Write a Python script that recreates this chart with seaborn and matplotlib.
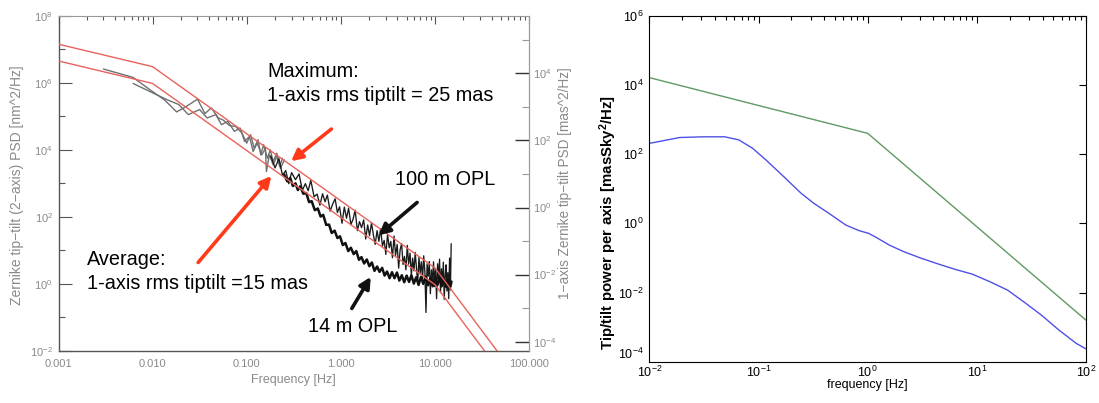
import numpy as np
import matplotlib
matplotlib.use("Agg")
import matplotlib.pyplot as plt
import seaborn as sns
from matplotlib.ticker import (FixedLocator, FixedFormatter, LogLocator,
                               NullFormatter, NullLocator, FuncFormatter)

# ------------------------------------------------------------------
# DATA (values of the PSD curves stored as log10 exponents)
# ------------------------------------------------------------------
# Left panel: red model envelopes
red_f = [0.001, 0.01, 10.0, 100.0]
red_upper_exp = [7.15, 6.48, 0.48, -3.27]
red_lower_exp = [6.65, 5.98, -0.02, -3.77]

# Left panel: low-frequency grey measurements
gray1_f = [0.0030, 0.0062, 0.0095, 0.0135, 0.018, 0.0224, 0.030, 0.036, 0.042, 0.050,
           0.056, 0.066, 0.076, 0.089, 0.100, 0.110, 0.120, 0.132, 0.141, 0.151,
           0.166, 0.178, 0.191, 0.209, 0.224, 0.240]
gray1_exp = [6.41, 6.16, 5.78, 5.48, 5.13, 5.28, 5.51, 5.08, 5.25, 4.95,
             4.89, 4.72, 4.70, 4.50, 4.20, 4.45, 4.05, 4.30, 3.85, 4.15,
             3.75, 4.00, 3.65, 3.90, 3.50, 3.75]

gray2_f = [0.0062, 0.0095, 0.0141, 0.019, 0.024, 0.0316, 0.038, 0.047, 0.054, 0.063,
           0.074, 0.085, 0.095, 0.107, 0.117, 0.129, 0.145, 0.158, 0.162, 0.174,
           0.191, 0.209, 0.229, 0.251]
gray2_exp = [5.98, 5.73, 5.50, 5.35, 5.05, 5.20, 4.95, 5.05, 4.75, 4.85,
             4.55, 4.65, 4.25, 4.40, 3.95, 4.20, 3.85, 4.05, 3.35, 3.85,
             3.55, 3.80, 3.45, 3.70]

# Left panel: 100 m OPL (noisy) measurement
opl100_f = [0.18, 0.20, 0.22, 0.24, 0.26, 0.28, 0.30, 0.33, 0.36, 0.39,
            0.42, 0.45, 0.48, 0.52, 0.56, 0.60, 0.64, 0.68, 0.72, 0.77,
            0.82, 0.87, 0.92, 0.97, 1.03, 1.09, 1.15, 1.21, 1.28, 1.35,
            1.42, 1.50, 1.58, 1.66, 1.75, 1.84, 1.93, 2.02, 2.12, 2.22,
            2.32, 2.43, 2.54, 2.65, 2.77, 2.89, 3.01, 3.14, 3.27, 3.40,
            3.54, 3.68, 3.82, 3.97, 4.12, 4.27, 4.43, 4.59, 4.75, 4.92,
            5.09, 5.26, 5.44, 5.62, 5.80, 5.99, 6.18, 6.37, 6.57, 6.77,
            6.97, 7.18, 7.39, 7.60, 7.82, 8.04, 8.26, 8.49, 8.72, 8.95,
            9.19, 9.43, 9.67, 9.92, 10.17, 10.42, 10.68, 10.94, 11.20, 11.47,
            11.74, 12.01, 12.29, 12.57, 12.85, 13.14, 13.43, 13.72, 14.02, 14.32,
            14.62, 14.90]
opl100_exp = [3.82, 3.46, 3.74, 3.24, 3.38, 2.99, 3.32, 3.11, 3.28, 2.79,
              2.99, 2.78, 3.09, 2.60, 2.68, 2.35, 2.69, 2.45, 2.65, 2.17,
              2.38, 2.54, 2.13, 2.30, 1.81, 2.29, 1.96, 2.26, 1.77, 1.93,
              2.20, 1.59, 1.86, 1.68, 1.91, 1.34, 1.76, 1.44, 1.82, 1.46,
              1.18, 1.59, 1.27, 1.65, 1.13, 1.30, 0.88, 1.48, 1.08, 1.27,
              0.78, 1.43, 0.85, 1.18, 0.47, 1.02, 1.20, 0.58, 0.82, 0.42,
              1.15, 0.59, 0.92, 0.26, 0.77, 0.39, 0.94, 0.47, 0.04, 0.79,
              0.32, 0.66, 0.14, 0.84, 0.37, -0.85, 0.60, 0.23, 0.67, -0.29,
              0.42, 0.05, 0.66, -0.08, 0.45, -0.44, 0.60, 0.15, 0.74, -0.26,
              0.45, -0.06, 0.65, -0.46, 0.25, 0.57, -0.21, 0.34, -0.44, 0.77,
              -0.18, 1.20]

# Left panel: 14 m OPL measurement
opl14_f = [0.25, 0.27, 0.29, 0.31, 0.33, 0.35, 0.37, 0.40, 0.43, 0.46,
           0.49, 0.53, 0.57, 0.61, 0.65, 0.70, 0.75, 0.80, 0.86, 0.92,
           0.98, 1.05, 1.12, 1.20, 1.28, 1.37, 1.46, 1.56, 1.66, 1.77,
           1.89, 2.01, 2.14, 2.28, 2.43, 2.58, 2.75, 2.92, 3.10, 3.30,
           3.50, 3.72, 3.95, 4.19, 4.45, 4.72, 5.01, 5.31, 5.63, 5.97,
           6.33, 6.71, 7.11, 7.53, 7.98, 8.45, 8.95, 9.48, 10.0, 10.6,
           11.2, 11.8, 12.5, 13.2, 13.9, 14.6, 15.0]
opl14_exp = [3.26, 3.06, 3.16, 2.92, 3.00, 2.80, 2.91, 2.69, 2.71, 2.44,
             2.47, 2.20, 2.25, 2.01, 2.06, 1.76, 1.77, 1.52, 1.59, 1.37,
             1.42, 1.16, 1.22, 0.98, 1.08, 0.89, 0.98, 0.72, 0.80, 0.61,
             0.73, 0.53, 0.64, 0.39, 0.52, 0.36, 0.48, 0.25, 0.37, 0.17,
             0.35, 0.17, 0.34, 0.10, 0.26, 0.05, 0.25, 0.06, 0.26, 0.01,
             0.20, -0.03, 0.21, 0.00, 0.22, -0.04, 0.17, -0.07, 0.18, -0.04,
             0.18, -0.07, 0.15, -0.09, 0.13, -0.08, 0.07]

left_xtick_vals = [0.001, 0.01, 0.1, 1.0, 10.0, 100.0]
left_xtick_labels = ["0.001", "0.010", "0.100", "1.000", "10.000", "100.000"]
nm_to_mas_factor = 190.0

# Right panel
green_f = [0.01, 1.0, 100.0]
green_exp = [4.21, 2.60, -2.80]
blue_f = [0.01, 0.019, 0.0316, 0.049, 0.066, 0.088, 0.117, 0.17, 0.245, 0.32,
          0.44, 0.63, 0.83, 1.02, 1.2, 1.58, 2.14, 3.09, 4.47, 6.3,
          9.1, 13.2, 19.1, 26.9, 38.9, 56.2, 81.3, 100.0]
blue_exp = [2.31, 2.48, 2.50, 2.50, 2.41, 2.17, 1.83, 1.35, 0.87, 0.58,
            0.29, -0.05, -0.21, -0.29, -0.41, -0.63, -0.82, -1.01, -1.18, -1.33,
            -1.47, -1.69, -1.93, -2.27, -2.65, -3.08, -3.47, -3.63]

# ------------------------------------------------------------------
sns.set_theme(style="white")
plt.rcParams['font.family'] = ['Liberation Sans', 'DejaVu Sans']
plt.rcParams['mathtext.fontset'] = 'custom'
plt.rcParams['mathtext.rm'] = 'Liberation Sans'
plt.rcParams['mathtext.it'] = 'Liberation Sans:italic'
plt.rcParams['mathtext.bf'] = 'Liberation Sans:bold'

W, H = 1099, 403
fig = plt.figure(figsize=(W / 100, H / 100), dpi=100)
fig.patch.set_facecolor('white')


def box(x0, y0, x1, y1):
    return [x0 / W, 1 - y1 / H, (x1 - x0) / W, (y1 - y0) / H]


ax1 = fig.add_axes(box(58.5, 15.7, 529, 351))
ax2 = fig.add_axes(box(649.4, 15.7, 1086, 361.7))


def lp(ax, f, e, **kw):
    sns.lineplot(x=np.asarray(f, float), y=10.0 ** np.asarray(e, float), ax=ax,
                 estimator=None, sort=False, legend=False, **kw)


# ---------------- left panel ----------------
lp(ax1, gray1_f, gray1_exp, color='#707070', linewidth=1.0, zorder=2)
lp(ax1, gray2_f, gray2_exp, color='#707070', linewidth=1.0, zorder=2)
lp(ax1, opl100_f, opl100_exp, color='#1a1a1a', linewidth=0.95, zorder=3)
lp(ax1, opl14_f, opl14_exp, color='#111111', linewidth=1.8, zorder=3)
lp(ax1, red_f, red_upper_exp, color='#e8625c', linewidth=1.0, zorder=4)
lp(ax1, red_f, red_lower_exp, color='#e8625c', linewidth=1.0, zorder=4)

ax1.set_xscale('log')
ax1.set_yscale('log')
ax1.set_xlim(1e-3, 1e2)
ax1.set_ylim(1e-2, 1e8)
ax1.set_xlabel('')
ax1.set_ylabel('')

ax1.xaxis.set_major_locator(FixedLocator(left_xtick_vals))
ax1.xaxis.set_major_formatter(FixedFormatter(left_xtick_labels))
ax1.xaxis.set_minor_locator(LogLocator(base=10, subs=range(2, 10)))
ax1.xaxis.set_minor_formatter(NullFormatter())
ax1.yaxis.set_major_locator(FixedLocator([1e-2, 1e0, 1e2, 1e4, 1e6, 1e8]))
ax1.yaxis.set_minor_locator(FixedLocator([1e-1, 1e1, 1e3, 1e5, 1e7]))
pow_fmt = FuncFormatter(lambda v, p: r'$10^{%d}$' % int(round(np.log10(v))))
ax1.yaxis.set_major_formatter(pow_fmt)
ax1.yaxis.set_minor_formatter(NullFormatter())

ax1.tick_params(axis='both', which='both', direction='in', color='#555555',
                labelcolor='#8a8a8a', labelsize=8, width=0.8)
ax1.tick_params(axis='x', which='major', length=6, top=True, pad=6)
ax1.tick_params(axis='x', which='minor', length=3, top=True)
ax1.tick_params(axis='y', which='major', length=9, left=True, right=False, pad=4)
ax1.tick_params(axis='y', which='minor', length=4.5, left=True, right=False)
for s in ['left', 'bottom']:
    ax1.spines[s].set_color('#555555')
    ax1.spines[s].set_linewidth(1.0)
for s in ['top', 'right']:
    ax1.spines[s].set_color('#9a9a9a')
    ax1.spines[s].set_linewidth(0.8)

ax1r = ax1.twinx()
ax1r.set_yscale('log')
ax1r.set_ylim(1e-2 / nm_to_mas_factor, 1e8 / nm_to_mas_factor)
ax1r.yaxis.set_major_locator(FixedLocator([1e-4, 1e-2, 1e0, 1e2, 1e4]))
ax1r.yaxis.set_minor_locator(FixedLocator([1e-3, 1e-1, 1e1, 1e3, 1e5]))
ax1r.yaxis.set_major_formatter(pow_fmt)
ax1r.yaxis.set_minor_formatter(NullFormatter())
ax1r.tick_params(axis='y', which='major', direction='in', length=10, width=1.0,
                 color='#333333', labelcolor='#8a8a8a', labelsize=8, pad=3)
ax1r.tick_params(axis='y', which='minor', direction='in', length=5, width=0.8,
                 color='#999999')
for s in ['left', 'top', 'bottom']:
    ax1r.spines[s].set_visible(False)
ax1r.spines['right'].set_color('#9a9a9a')
ax1r.spines['right'].set_linewidth(0.8)

# annotations
txt_kw = dict(fontsize=14.3, color='black', ha='left', va='center', zorder=6)
ax1.text(0.164, 10 ** 6.35, 'Maximum:', **txt_kw)
ax1.text(0.164, 10 ** 5.61, '1-axis rms tiptilt = 25 mas', **txt_kw)
ax1.text(0.0020, 10 ** 0.73, 'Average:', **txt_kw)
ax1.text(0.0020, 10 ** 0.0, '1-axis rms tiptilt =15 mas', **txt_kw)
ax1.text(3.73, 10 ** 3.125, '100 m OPL', **txt_kw)
ax1.text(0.447, 10 ** -1.26, '14 m OPL', **txt_kw)

red_arrow = dict(arrowstyle='-|>,head_length=0.55,head_width=0.28', color='#ff3a1a',
                 lw=2.6, shrinkA=0, shrinkB=0)
blk_arrow = dict(arrowstyle='-|>,head_length=0.55,head_width=0.28', color='#111111',
                 lw=2.6, shrinkA=0, shrinkB=0)
ax1.annotate('', xy=(0.296, 10 ** 3.66), xytext=(0.794, 10 ** 4.62),
             arrowprops=red_arrow, zorder=6)
ax1.annotate('', xy=(0.183, 10 ** 3.22), xytext=(0.0305, 10 ** 0.64),
             arrowprops=red_arrow, zorder=6)
ax1.annotate('', xy=(2.52, 10 ** 1.45), xytext=(6.47, 10 ** 2.43),
             arrowprops=blk_arrow, zorder=6)
ax1.annotate('', xy=(2.08, 10 ** 0.21), xytext=(1.31, 10 ** -0.73),
             arrowprops=blk_arrow, zorder=6)

fig.text(293.5 / W, 1 - 380 / H, 'Frequency [Hz]', ha='center', va='center',
         fontsize=9, color='#8a8a8a')
fig.text(17 / W, 1 - 185 / H, 'Zernike tip\u2212tilt (2\u2212axis) PSD [nm^2/Hz]',
         ha='center', va='center', rotation=90, fontsize=10, color='#8a8a8a')
fig.text(565 / W, 1 - 183 / H, '1\u2212axis Zernike tip\u2212tilt PSD [mas^2/Hz]',
         ha='center', va='center', rotation=90, fontsize=9.8, color='#8a8a8a')

# ---------------- right panel ----------------
lp(ax2, green_f, green_exp, color='#5f9a62', linewidth=1.0)
lp(ax2, blue_f, blue_exp, color='#5050e6', linewidth=1.0)
ax2.set_xscale('log')
ax2.set_yscale('log')
ax2.set_xlim(1e-2, 1e2)
ax2.set_ylim(1e-4, 1e6)
ax2.set_xlabel('')
ax2.set_ylabel('')
ax2.xaxis.set_major_locator(FixedLocator([1e-2, 1e-1, 1e0, 1e1, 1e2]))
ax2.xaxis.set_major_formatter(pow_fmt)
ax2.xaxis.set_minor_locator(LogLocator(base=10, subs=range(2, 10)))
ax2.xaxis.set_minor_formatter(NullFormatter())
ax2.yaxis.set_major_locator(FixedLocator([1e-4, 1e-2, 1e0, 1e2, 1e4, 1e6]))
ax2.yaxis.set_major_formatter(pow_fmt)
ax2.yaxis.set_minor_locator(NullLocator())
ax2.tick_params(axis='both', which='both', direction='in', color='black',
                labelcolor='black', labelsize=9, top=True, right=True, width=0.8)
ax2.tick_params(axis='y', which='major', length=5, pad=4)
ax2.tick_params(axis='x', which='major', length=5, pad=2.5)
ax2.tick_params(axis='x', which='minor', length=3)
for s in ax2.spines.values():
    s.set_color('black')
    s.set_linewidth(0.8)
# nudge the bottom y tick label up slightly so it clears the corner x label
ylab_bottom = ax2.yaxis.get_major_ticks()[0].label1
ylab_bottom.set_verticalalignment('bottom')

fig.text(867 / W, 1 - 385 / H, 'frequency [Hz]', ha='center', va='center',
         fontsize=9, color='black')
fig.text(608 / W, 1 - 222 / H, r'Tip/tilt power per axis [masSky$^{\mathbf{2}}$/Hz]',
         ha='center', va='center', rotation=90, fontsize=10.8, fontweight='bold',
         color='black')

fig.savefig('out.png', dpi=100, facecolor='white')
